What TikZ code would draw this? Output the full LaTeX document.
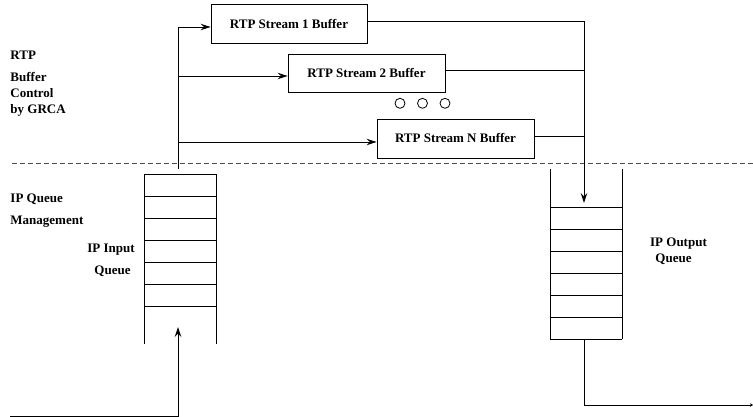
\documentclass[tikz,border=0pt]{standalone}
\usepackage{fontspec}
\setmainfont{Liberation Serif}
\usetikzlibrary{arrows.meta}
\begin{document}
\begin{tikzpicture}[x=1pt,y=-1pt,
  line width=0.9pt,
  every node/.style={font=\fontsize{13}{15}\selectfont\bfseries, inner sep=0pt},
  buf/.style={draw, rectangle, minimum height=39pt},
  dot/.style={draw, circle, minimum size=10pt, line width=0.8pt},
  arr/.style={-{Stealth[length=10pt,width=6.5pt,inset=3.5pt]}},
  lbl/.style={anchor=base west},
  clbl/.style={anchor=base},
  sep/.style={dash pattern=on 4.5pt off 3.5pt, black!70}]
\useasboundingbox (0,0) rectangle (753,417);

% RTP stream buffers
\node[buf, minimum width=156pt] (b1) at (289,23.75) {RTP Stream 1 Buffer};
\node[buf, minimum width=157pt, minimum height=38pt] (b2) at (366.5,73) {RTP Stream 2 Buffer};
\node[buf, minimum width=157pt] (bn) at (455.5,138.5) {RTP Stream N Buffer};

% ellipsis circles
\node[dot] (d1) at (400,103.3) {};
\node[dot] (d2) at (422.5,103.3) {};
\node[dot] (d3) at (445,103.3) {};

% separator
\coordinate (dl) at (12,163.3);
\coordinate (dr) at (753,163.3);
\draw[sep] (dl) -- (dr);

% labels
\node[lbl] (l1) at (10,60) {RTP};
\node[lbl] (l2) at (10,81.3) {Buffer};
\node[lbl] (l3) at (10,97.3) {Control};
\node[lbl] (l4) at (10,114) {by GRCA};
\node[lbl] (l5) at (10,202.3) {IP Queue};
\node[lbl] (l6) at (10,224.3) {Management};
\node[clbl] (l7) at (111,252.3) {IP Input};
\node[clbl] (l8) at (112.5,274.3) {Queue};
\node[clbl] (l9) at (678.5,246) {IP Output};
\node[clbl] (l10) at (673.5,262) {Queue};

% input queue
\draw (144,174.3) -- (216.3,174.3);
\draw (144,174.3) -- (144,344.3);
\draw (216.3,174.3) -- (216.3,344.3);
\foreach \yy in {196,218.3,240.3,262.3,284.3,306}
  \draw (144,\yy) -- (216.3,\yy);

% output queue
\draw (550.3,169.3) -- (550.3,339.3);
\draw (622.3,169.3) -- (622.3,339.3);
\foreach \yy in {207.7,229.3,251,273.3,295.3,317.3,339.3}
  \draw (550.3,\yy) -- (622.3,\yy);

% distribution trunk
\coordinate (tb) at (178,169);
\coordinate (t2) at (178,76);
\coordinate (t3) at (178,142);
\draw[arr] (tb) |- ([yshift=-3.25pt]b1.west);
\draw[arr] (t2) -- (t2 -| b2.west);
\draw[arr] (t3) -- (t3 -| bn.west);

% collection to output queue
\coordinate (oq) at (584,203);
\coordinate (r2) at (584,70);
\coordinate (rn) at (584,136);
\draw[arr] ([yshift=2.75pt]b1.east) -| (oq);
\draw ([yshift=3pt]b2.east) -- (r2);
\draw ([yshift=2.5pt]bn.east) -- (rn);

% input flow
\coordinate (in0) at (10,416);
\coordinate (in1) at (178,327);
\draw[arr] (in0) -| (in1);

% output flow
\coordinate (oq0) at (584,339.3);
\coordinate (out) at (753,405);
\draw[-{Stealth[length=3pt,width=3.5pt]}] (oq0) |- (out);
\end{tikzpicture}
\end{document}
